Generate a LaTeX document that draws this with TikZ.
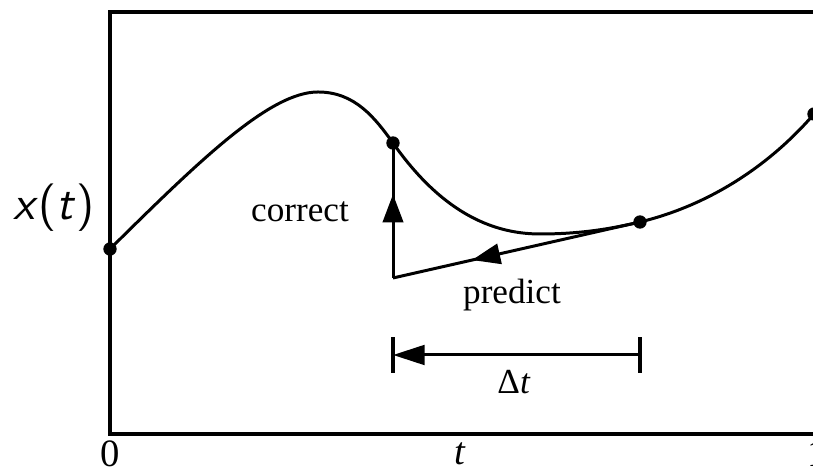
\documentclass[tikz,border=0pt]{standalone}
\usepackage{fontspec}
\setmainfont{Liberation Serif}
\usetikzlibrary{arrows.meta,decorations.markings}
\tikzset{
  midarrow/.style={decoration={markings,
      mark=at position #1 with {\arrow{Triangle[length=8pt,width=5.8pt]}}},
    postaction={decorate}},
  dot/.style={fill=black},
  axislabel/.style={font=\fontsize{11}{12}\selectfont},
}
\begin{document}
\begin{tikzpicture}[x=0.01cm,y=-0.01cm,line width=0.85pt,
    font=\fontsize{10}{12}\selectfont]
  \useasboundingbox (0,0) rectangle (813,471);
  \clip (0,0) rectangle (813,471);
  % frame
  \draw[line width=1.2pt] (110,12) rectangle (818,434);
  % points on the curve
  \coordinate (x0) at (110,249);
  \coordinate (xa) at (393,143);
  \coordinate (xb) at (640,222);
  \coordinate (x1) at (814,114);
  \coordinate (xp) at (393,278);
  % the curve x(t)
  \draw (x0) .. controls (200,160) and (270,92) .. (318,92)
        .. controls (355,92) and (375,118) .. (xa)
        .. controls (440,210) and (490,234) .. (540,234)
        .. controls (580,234) and (610,229) .. (xb)
        .. controls (710,205) and (770,165) .. (x1);
  % predict and correct
  \draw[midarrow=0.68] (xb) -- (xp);
  \draw[midarrow=0.62] (xp) -- (xa);
  \foreach \p in {x0,xa,xb,x1}
    \fill[dot] (\p) circle (1.9pt);
  % step
  \coordinate (dl) at (393,355);
  \coordinate (dr) at (640,355);
  \draw[-{Triangle[length=9pt,width=5.6pt]}] (dr) -- (dl);
  \draw[line width=1.2pt] ([yshift=5.1pt]dl) -- ([yshift=-5.1pt]dl);
  \draw[line width=1.2pt] ([yshift=5.1pt]dr) -- ([yshift=-5.1pt]dr);
  % labels
  \node (lc) at (300,212) {correct};
  \node (lp) at (512,295) {predict};
  \node (ld) at (514,382) {Δ\textit{t}};
  \node (lx) at (54,208) {\sffamily\fontsize{13.5}{16}\selectfont\textsl{x}(\textsl{t})};
  \node[axislabel] (l0) at (110,454) {0};
  \node[axislabel] (lt) at (460,454) {\textit{t}};
  \node[axislabel] (l1) at (817,454) {1};
\end{tikzpicture}
\end{document}
